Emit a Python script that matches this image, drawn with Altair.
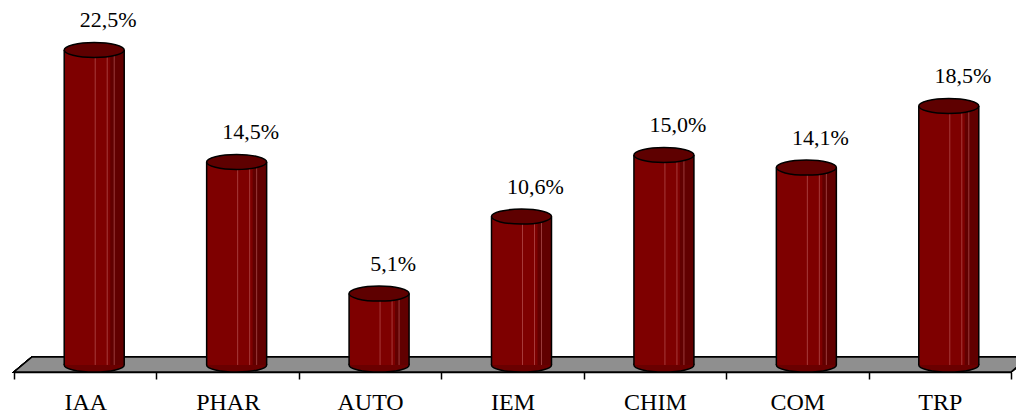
import altair as alt
import pandas as pd

categories = ["IAA", "PHAR", "AUTO", "IEM", "CHIM", "COM", "TRP"]
values = [22.5, 14.5, 5.1, 10.6, 15.0, 14.1, 18.5]
labels = [f"{v:.1f}".replace(".", ",") + "%" for v in values]

df = pd.DataFrame({"cat": categories, "val": values, "label": labels, "zero": [0.0] * len(values)})

W, H = 997, 372
BAR_W = 60
SHIFT = 9          # depth shift of cylinders right of band centre
FONT = "Liberation Serif"

x = alt.X("cat:N", sort=categories, title=None,
          scale=alt.Scale(paddingInner=0, paddingOuter=0),
          axis=alt.Axis(tickBand="extent", labelAngle=0, labelFontSize=24,
                        labelFont=FONT, labelColor="black", labelPadding=11,
                        tickSize=7, tickColor="black", tickWidth=1.5,
                        domainColor="black", domainWidth=1.5))
yscale = alt.Scale(domain=[-0.5, 26.071], nice=False, zero=False)
y = alt.Y("val:Q", scale=yscale, axis=None)
y0 = alt.Y("zero:Q", scale=yscale, axis=None)

base = alt.Chart(df)

# floor parallelogram (decoration, built from layout sizes)
depth_x, depth_y = 18, 15
cx, cy = W / 2 + depth_x / 2, H - depth_y / 2
s = 520.0
pts = [(0, H), (depth_x, H - depth_y), (W + depth_x, H - depth_y), (W, H)]
path = "M" + " L".join(f"{(px - cx) / s:.5f} {(py - cy) / s:.5f}" for px, py in pts) + " Z"
floor = base.mark_point(
    shape=path, filled=True, fill="#8f8f8f", stroke="black", strokeWidth=1.5, opacity=1
).encode(x=alt.value(cx), y=alt.value(cy), size=alt.value((2 * s) ** 2))

ell_bottom = "M -1 0 A 1 0.2333 0 1 0 1 0 A 1 0.2333 0 1 0 -1 0 Z"
ell_top = "M -1 0 A 1 0.25 0 1 0 1 0 A 1 0.25 0 1 0 -1 0 Z"

bottom = base.mark_point(shape=ell_bottom, filled=True, fill="#6a0000", stroke="black",
                         strokeWidth=1.5, opacity=1, xOffset=SHIFT).encode(
    x=x, y=y0, size=alt.value(BAR_W ** 2))

body = base.mark_bar(size=BAR_W, color="#7e0000", xOffset=SHIFT).encode(
    x=x, y=y, y2="zero:Q")

shade = base.mark_bar(size=14, color="#5a0000", xOffset=SHIFT + 23, opacity=0.8).encode(
    x=x, y=y, y2="zero:Q")

streaks = [
    base.mark_rule(color="#c86a6a", strokeWidth=1, opacity=0.55, xOffset=SHIFT + o).encode(
        x=x, y=y, y2="zero:Q")
    for o in (1, 13, 20)
]

edges = [
    base.mark_rule(color="black", strokeWidth=1.5, xOffset=SHIFT + o).encode(
        x=x, y=y, y2="zero:Q")
    for o in (-BAR_W / 2, BAR_W / 2)
]

top = base.mark_point(shape=ell_top, filled=True, fill="#5e0000", stroke="black",
                      strokeWidth=1.5, opacity=1, xOffset=SHIFT).encode(
    x=x, y=y, size=alt.value(BAR_W ** 2))

text = base.mark_text(font=FONT, fontSize=22, color="black", align="center",
                      baseline="alphabetic", dx=SHIFT + 14, dy=-23).encode(
    x=x, y=y, text="label:N")

chart = alt.layer(floor, bottom, body, shade, *streaks, *edges, top, text).properties(
    width=W, height=H,
    autosize=alt.AutoSizeParams(type="none"),
    padding={"left": 14, "top": 0, "right": 5, "bottom": 42},
    background="white",
).configure_view(stroke=None)

chart.save("out.html", embed_options={"renderer": "svg", "actions": False})
